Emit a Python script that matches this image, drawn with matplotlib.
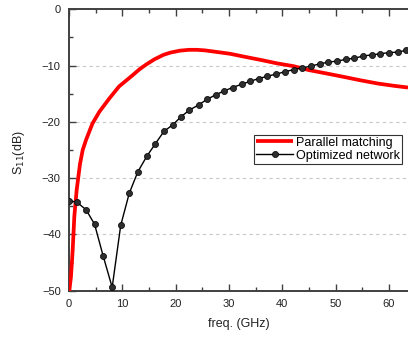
import matplotlib
matplotlib.use("Agg")
import matplotlib.pyplot as plt
from matplotlib.ticker import MultipleLocator

plt.rcParams['font.family'] = ['Liberation Sans', 'DejaVu Sans']

# parallel matching (red)
freq_par = [0.0, 0.37, 0.69, 1.0, 1.44, 2.06, 2.57, 3.2, 4.4, 5.7, 7.6, 9.4, 11.95,
            13.3, 14.5, 16.0, 17.7, 19.0, 20.8, 22.5, 24.0, 25.5, 27.1, 30.2, 33.3, 36.0,
            39.0, 42.1, 45.0, 48.3, 51.5, 54.6, 58.0, 61.0, 63.6]
s11_par = [-50.5, -47.5, -42.8, -36.8, -32.1, -27.5, -25.0, -23.2, -20.3, -18.2, -15.8,
           -13.7, -11.7, -10.6, -9.8, -8.9, -8.1, -7.7, -7.35, -7.2, -7.2, -7.3, -7.5,
           -7.9, -8.5, -9.0, -9.6, -10.1, -10.8, -11.4, -12.0, -12.6, -13.2, -13.6, -13.9]

# optimized network (black with markers)
freq_opt = [0.0, 1.5, 3.2, 4.8, 6.4, 8.1, 9.7, 11.3, 12.9, 14.6,
            16.2, 17.8, 19.5, 21.0, 22.6, 24.3, 25.9, 27.5, 29.1, 30.7,
            32.4, 34.0, 35.6, 37.2, 38.9, 40.5, 42.2, 43.8, 45.4, 47.0,
            48.6, 50.3, 51.9, 53.5, 55.2, 56.8, 58.4, 60.0, 61.7, 63.2]
s11_opt = [-34.0, -34.3, -35.6, -38.2, -43.8, -49.4, -38.4, -32.7, -28.9, -26.1,
           -23.9, -21.7, -20.5, -19.1, -17.9, -17.0, -16.0, -15.2, -14.5, -13.9,
           -13.3, -12.8, -12.3, -11.9, -11.5, -11.1, -10.7, -10.4, -10.1, -9.7,
           -9.4, -9.2, -8.9, -8.7, -8.3, -8.1, -7.9, -7.7, -7.6, -7.3]

fig = plt.figure(figsize=(4.08, 3.38), dpi=100)
ax = fig.add_axes([69 / 408, 1 - 290.7 / 338, 1 - 69 / 408, (290.7 - 9.3) / 338])

for y in [-10, -20, -30, -40]:
    ax.axhline(y, color='#c8c8c8', linestyle=(0, (3, 3)), linewidth=0.8, zorder=0)

ax.plot(freq_par, s11_par, color='#ff0000', linewidth=2.7, label='Parallel matching',
        zorder=3, solid_capstyle='butt')
ax.plot(freq_opt, s11_opt, color='black', linewidth=1.0, marker='o', markersize=4.4,
        markerfacecolor='#2e2e2e', markeredgecolor='black', markeredgewidth=0.5,
        label='Optimized network', zorder=4)

ax.set_xlim(0, 63.6)
ax.set_ylim(-50, 0)
ax.xaxis.set_major_locator(MultipleLocator(10))
ax.xaxis.set_minor_locator(MultipleLocator(5))
ax.yaxis.set_major_locator(MultipleLocator(10))
ax.yaxis.set_minor_locator(MultipleLocator(5))
ax.tick_params(which='both', direction='in', top=True, right=False, colors='#404040',
               labelcolor='#222222', labelsize=8, width=1.0, pad=6)
ax.tick_params(which='major', length=5)
ax.tick_params(which='minor', length=3)
for side in ['left', 'bottom', 'top']:
    ax.spines[side].set_color('#404040')
    ax.spines[side].set_linewidth(1.4)
ax.spines['right'].set_visible(False)

ax.set_xlabel('freq. (GHz)', fontsize=9, color='#222222', va='top')
ax.xaxis.set_label_coords(0.5, -0.097)
ax.set_ylabel('S$_{11}$(dB)', fontsize=9, color='#222222')
ax.yaxis.set_label_coords(-0.124, 0.49)

leg = ax.legend(loc='upper right', bbox_to_anchor=(401.7 / 408, 1 - 134.7 / 338),
                bbox_transform=fig.transFigure, fontsize=9, numpoints=1,
                fancybox=False, frameon=True, handlelength=3.0, borderpad=0.15,
                labelspacing=0.1, handletextpad=0.2, borderaxespad=0)
leg.get_frame().set_edgecolor('black')
leg.get_frame().set_linewidth(0.8)

fig.savefig('out.png', dpi=100)
